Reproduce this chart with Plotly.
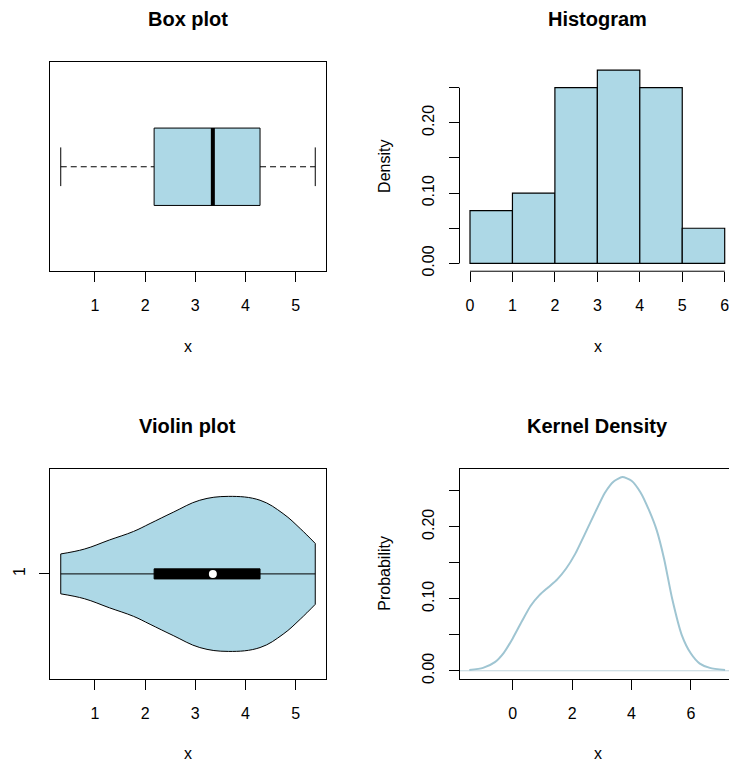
import plotly.graph_objects as go

# ---- data -------------------------------------------------------------
# five-number summary: lower whisker, Q1, median, Q3, upper whisker
box_stats = [0.32, 2.18, 3.35, 4.29, 5.39]

# histogram (density scale), unit-width bins
hist_edges = [0, 1, 2, 3, 4, 5, 6]
hist_density = [0.075, 0.100, 0.250, 0.275, 0.250, 0.050]

# violin outline: half-width (in y units) along x
violin_x = [0.32, 0.79, 1.29, 1.77, 2.10, 2.56, 3.09, 3.66, 4.29, 4.75, 5.09, 5.39]
violin_half = [0.103, 0.128, 0.175, 0.219, 0.260, 0.318, 0.380, 0.400, 0.380, 0.311, 0.234, 0.157]

# kernel density estimate
kde_x = [-1.46, -1.0, -0.6, -0.3, 0.0, 0.3, 0.6, 0.9, 1.2, 1.5, 1.8, 2.1,
         2.5, 2.8, 3.1, 3.4, 3.69, 4.0, 4.3, 4.6, 4.85, 5.1, 5.37, 5.69,
         6.0, 6.3, 6.64, 7.15]
kde_y = [0.001, 0.004, 0.012, 0.025, 0.045, 0.068, 0.090, 0.105, 0.116, 0.127, 0.142, 0.162,
         0.196, 0.222, 0.247, 0.263, 0.269, 0.264, 0.248, 0.222, 0.195, 0.155, 0.100, 0.050,
         0.024, 0.010, 0.004, 0.001]

x_ticks_box = [1, 2, 3, 4, 5]
x_ticks_hist = [0, 1, 2, 3, 4, 5, 6]
x_ticks_kde = [0, 2, 4, 6]
y_ticks_dens = [0, 0.05, 0.10, 0.15, 0.20, 0.25]
y_ticktext_dens = ["0.00", "", "0.10", "", "0.20", ""]

# ---- styling ----------------------------------------------------------
W, H = 729, 769
FILL = "#ADD8E6"
FONT = "Liberation Sans, Arial, Helvetica, sans-serif"
TICKFONT = dict(family=FONT, size=16, color="black")


def dom_x(a, b):
    return [a / W, min(b / W, 1.0)]


def dom_y(top, bottom):
    return [1 - bottom / H, 1 - top / H]


lo, q1, med, q3, hi = box_stats

fig = go.Figure()

# ---- Box plot (x, y) --------------------------------------------------
fig.add_trace(go.Scatter(x=[q1, q3, q3, q1, q1], y=[0.8, 0.8, 1.2, 1.2, 0.8],
                         fill="toself", fillcolor=FILL, mode="lines",
                         line=dict(color="black", width=1), xaxis="x", yaxis="y"))
fig.add_trace(go.Scatter(x=[med, med], y=[0.8, 1.2], mode="lines",
                         line=dict(color="black", width=4), xaxis="x", yaxis="y"))
for a, b in [(lo, q1), (q3, hi)]:
    fig.add_trace(go.Scatter(x=[a, b], y=[1, 1], mode="lines",
                             line=dict(color="black", width=1, dash="6px,4px"),
                             xaxis="x", yaxis="y"))
for v in [lo, hi]:
    fig.add_trace(go.Scatter(x=[v, v], y=[0.9, 1.1], mode="lines",
                             line=dict(color="black", width=1), xaxis="x", yaxis="y"))

# ---- Histogram (x2, y2) ----------------------------------------------
centers = [(hist_edges[i] + hist_edges[i + 1]) / 2 for i in range(len(hist_density))]
widths = [hist_edges[i + 1] - hist_edges[i] for i in range(len(hist_density))]
fig.add_trace(go.Bar(x=centers, y=hist_density, width=widths,
                     marker=dict(color=FILL, line=dict(color="black", width=1.2)),
                     xaxis="x2", yaxis="y2"))

# ---- Violin plot (x3, y3) --------------------------------------------
upper = [1 + h for h in violin_half]
lower = [1 - h for h in violin_half]
vline = dict(color="black", width=1, shape="spline", smoothing=1.1)
fig.add_trace(go.Scatter(x=violin_x, y=lower, mode="lines", line=vline,
                         xaxis="x3", yaxis="y3"))
fig.add_trace(go.Scatter(x=violin_x, y=upper, mode="lines", line=vline,
                         fill="tonexty", fillcolor=FILL, xaxis="x3", yaxis="y3"))
for i in [0, -1]:
    fig.add_trace(go.Scatter(x=[violin_x[i], violin_x[i]], y=[lower[i], upper[i]],
                             mode="lines", line=dict(color="black", width=1),
                             xaxis="x3", yaxis="y3"))
fig.add_trace(go.Scatter(x=[lo, hi], y=[1, 1], mode="lines",
                         line=dict(color="black", width=1), xaxis="x3", yaxis="y3"))
fig.add_trace(go.Scatter(x=[q1, q3, q3, q1, q1], y=[0.974, 0.974, 1.026, 1.026, 0.974],
                         fill="toself", fillcolor="black", mode="lines",
                         line=dict(color="black", width=1), xaxis="x3", yaxis="y3"))
fig.add_trace(go.Scatter(x=[med], y=[1], mode="markers",
                         marker=dict(color="white", size=8, line=dict(width=0)),
                         xaxis="x3", yaxis="y3"))

# ---- Kernel density (x4, y4) -----------------------------------------
fig.add_trace(go.Scatter(x=[-5, 10], y=[0, 0], mode="lines",
                         line=dict(color="#BFD5DD", width=1), xaxis="x4", yaxis="y4"))
fig.add_trace(go.Scatter(x=kde_x, y=kde_y, mode="lines",
                         line=dict(color="#9FC5D2", width=2, shape="spline", smoothing=0.6),
                         xaxis="x4", yaxis="y4"))

# ---- axes -------------------------------------------------------------
TOP_ROW = dom_y(62.7, 273.0)
BOT_ROW = dom_y(472.3, 683.0)
LEFT_COL = (50.0, 325.7)
RIGHT_COL = (459.5, 736.0)

common = dict(showgrid=False, zeroline=False, tickfont=TICKFONT,
              tickcolor="black", tickwidth=1, ticklen=10, ticklabeloverflow="allow")


def xrange_from(px0, px1, origin_px, scale):
    return [(px0 - origin_px) / scale, (px1 - origin_px) / scale]


fig.update_layout(
    xaxis=dict(domain=dom_x(*LEFT_COL), range=[0.106, 5.598], anchor="y",
               tickvals=x_ticks_box, ticks="outside", showline=True, mirror=True,
               linecolor="black", linewidth=1, ticklabelstandoff=10, **common),
    yaxis=dict(domain=TOP_ROW, range=[0.46, 1.54], anchor="x", showticklabels=False,
               ticks="", showline=True, mirror=True, linecolor="black", linewidth=1,
               showgrid=False, zeroline=False),
    xaxis2=dict(domain=dom_x(*RIGHT_COL), range=xrange_from(RIGHT_COL[0], W, 470.0, 42.45),
                anchor="y2", tickvals=x_ticks_hist, ticks="outside", showline=False,
                ticklabelstandoff=10, **common),
    yaxis2=dict(domain=TOP_ROW, range=[-0.0111, 0.2861], anchor="x2",
                tickvals=y_ticks_dens, ticktext=y_ticktext_dens, ticks="outside",
                tickangle=-90, showline=False, ticklabelstandoff=8, **common),
    xaxis3=dict(domain=dom_x(*LEFT_COL), range=[0.106, 5.598], anchor="y3",
                tickvals=x_ticks_box, ticks="outside", showline=True, mirror=True,
                linecolor="black", linewidth=1, ticklabelstandoff=10, **common),
    yaxis3=dict(domain=BOT_ROW, range=[0.46, 1.54], anchor="x3", tickvals=[1],
                ticktext=["1"], ticks="outside", tickangle=-90, showline=True, mirror=True,
                linecolor="black", linewidth=1, ticklabelstandoff=8, **common),
    xaxis4=dict(domain=dom_x(*RIGHT_COL), range=xrange_from(RIGHT_COL[0], W, 512.7, 29.7),
                anchor="y4", tickvals=x_ticks_kde, ticks="outside", showline=True,
                mirror=True, linecolor="black", linewidth=1, ticklabelstandoff=10, **common),
    yaxis4=dict(domain=BOT_ROW, range=[-0.0108, 0.2799], anchor="x4",
                tickvals=y_ticks_dens, ticktext=y_ticktext_dens, ticks="outside",
                tickangle=-90, showline=True, mirror=False, linecolor="black",
                linewidth=1, ticklabelstandoff=8, **common),
)

# histogram axis lines span only the tick range
fig.add_shape(type="line", xref="x2", yref="y2 domain", x0=0, x1=6, y0=0, y1=0,
              line=dict(color="black", width=1))
fig.add_shape(type="line", xref="x2 domain", yref="y2", x0=0, x1=0, y0=0, y1=0.25,
              line=dict(color="black", width=1))


# ---- titles and axis labels ------------------------------------------
def text(x, y, s, size=16, bold=False, angle=0):
    fig.add_annotation(x=x / W, y=1 - y / H, xref="paper", yref="paper", text=s,
                       showarrow=False, textangle=angle, xanchor="center", yanchor="middle",
                       font=dict(family=FONT, size=size, color="black",
                                 weight="bold" if bold else "normal"))


LC = (LEFT_COL[0] + LEFT_COL[1]) / 2
RC = (RIGHT_COL[0] + RIGHT_COL[1]) / 2
text(LC, 19.5, "Box plot", size=20, bold=True)
text(RC, 19.5, "Histogram", size=20, bold=True)
text(LC, 429, "Violin plot", size=20, bold=True)
text(RC, 429, "Kernel Density", size=20, bold=True)
text(LC, 349, "x")
text(RC, 349, "x")
text(LC, 758, "x")
text(RC, 758, "x")
text(385, 168, "Density", angle=-90)
text(385, 577.5, "Probability", angle=-90)

fig.update_layout(width=W, height=H, margin=dict(l=0, r=0, t=0, b=0),
                  paper_bgcolor="white", plot_bgcolor="white", showlegend=False)

fig.write_html("out.html")
